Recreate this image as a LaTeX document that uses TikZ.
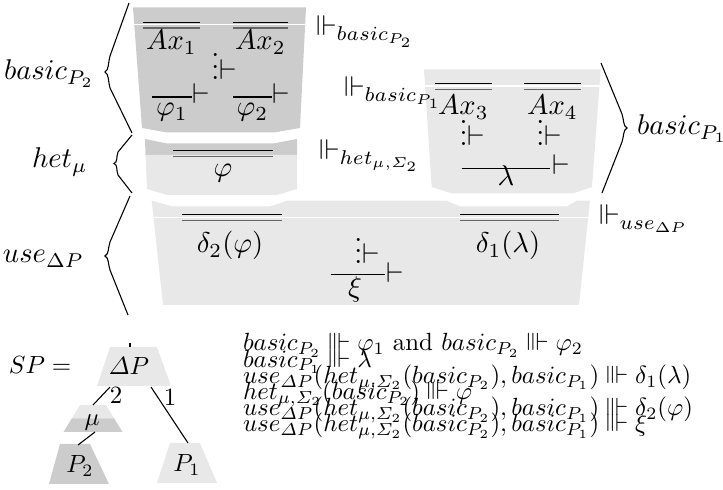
\documentclass[tikz,border=0pt]{standalone}
\usepackage{amsmath,amssymb}
\definecolor{darkbox}{HTML}{CCCCCC}
\definecolor{lightbox}{HTML}{E8E8E8}
\definecolor{rulegray}{gray}{0.4}
\newcommand{\dotsturn}{\ensuremath{\smash{\vdots}\mathord{\vdash}}}
\begin{document}
\begin{tikzpicture}[x=0.35pt,y=-0.35pt,
  txt/.style={inner sep=0pt,outer sep=0pt},
  small/.style={inner sep=0pt,outer sep=0pt,scale=0.87},
  rul/.style={line width=0.42pt},
  rulg/.style={line width=0.42pt,draw=rulegray},
  sepline/.style={draw=white,line width=0.6pt},
  brc/.style={line width=0.38pt},
  edgeline/.style={line width=0.38pt}]
\useasboundingbox (0,0) rectangle (723,490);
% ---------- boxes ----------
\fill[darkbox] (133,7.5) -- (306,7.5) -- (300,128) -- (274,132.5) -- (167,132.5) -- (142,128) -- cycle;
\draw[sepline] (130,24.5) -- (310,24.5);
\fill[darkbox] (145,139) -- (167,143.5) -- (273,143.5) -- (297,139) -- (297,155) -- (145.5,155) -- cycle;
\fill[lightbox] (145.5,155) -- (297,155) -- (297,189) -- (277,195) -- (167,195) -- (147,189) -- cycle;
\fill[lightbox] (424,69.3) -- (600.7,69.3) -- (592,187) -- (573,193.5) -- (452,193.5) -- (431.7,187) -- cycle;
\draw[sepline] (420,86) -- (605,86);
\fill[lightbox] (151.7,200.7) -- (173,206.5) -- (270,206.5) -- (287,200.7) -- (446.7,200.7) -- (460,206.5) -- (566.7,206.5) -- (576.7,200.7) -- (590,200.7) -- (579,305) -- (163,305) -- cycle;
\draw[sepline] (148,217.5) -- (595,217.5);
% ---------- rules ----------
\draw[rul] (142.7,22.5) -- (200,22.5);  \draw[rulg] (142.7,28) -- (200,28);
\draw[rul] (232.7,22.5) -- (288,22.5);  \draw[rulg] (232.7,28) -- (288,28);
\draw[rul] (435,83.3) -- (491.7,83.3);  \draw[rulg] (435,89.3) -- (491.7,89.3);
\draw[rul] (524.3,83.3) -- (580.7,83.3); \draw[rulg] (524.3,89.3) -- (580.7,89.3);
\draw[rul] (173,150.7) -- (273,150.7);  \draw[rulg] (173,156.7) -- (273,156.7);
\draw[rul] (181.7,214.3) -- (281.7,214.3); \draw[rulg] (181.7,220.3) -- (281.7,220.3);
\draw[rul] (460,214.3) -- (559,214.3);  \draw[rulg] (460,220.3) -- (559,220.3);
\draw[rul] (152,97) -- (192,97);
\draw[rul] (233,97) -- (272,97);
\draw[rul] (461.7,168.3) -- (550,168.3);
\draw[rul] (330.7,274.3) -- (385,274.3);
% ---------- formulas in boxes ----------
\node[txt,anchor=base] (ax1) at (171.4,50) {$Ax_1$};
\node[txt,anchor=base] (ax2) at (260.3,50) {$Ax_2$};
\node[txt,anchor=base west] (vd1) at (211.3,79.5) {\dotsturn};
\node[txt,anchor=base] (phi1) at (172,116) {$\varphi_1$};
\node[txt,anchor=base] (phi2) at (252.5,116) {$\varphi_2$};
\node[txt] (t1) at (201,94) {$\vdash$};
\node[txt] (t2) at (281,94) {$\vdash$};
\node[txt,anchor=base] (ax3) at (463.3,115) {$Ax_3$};
\node[txt,anchor=base] (ax4) at (552.5,115) {$Ax_4$};
\node[txt,anchor=base west] (vd3) at (459.6,146) {\dotsturn};
\node[txt,anchor=base west] (vd4) at (536.3,146) {\dotsturn};
\node[txt,anchor=base] (lam) at (506,186) {$\lambda$};
\node[txt] (t3) at (561,165) {$\vdash$};
\node[txt,anchor=base] (phi) at (223,177) {$\varphi$};
\node[txt,anchor=base] (d2) at (230,253) {$\delta_2(\varphi)$};
\node[txt,anchor=base] (d1) at (508,253) {$\delta_1(\lambda)$};
\node[txt,anchor=base west] (vd5) at (354.3,264) {\dotsturn};
\node[txt,anchor=base] (xi) at (355,297) {$\xi$};
\node[txt] (t4) at (395,273) {$\vdash$};
% ---------- turnstile labels ----------
\node[txt,anchor=base west] (l1) at (316,36) {$\Vdash_{basic_{P_2}}$};
\node[txt,anchor=base west] (l2) at (344,97) {$\Vdash_{basic_{P_1}}$};
\node[txt,anchor=base west] (l3) at (319,160) {$\Vdash_{het_{\mu,\varSigma_2}}$};
\node[txt,anchor=base west] (l4) at (599,225) {$\Vdash_{use_{\Delta P}}$};
% ---------- side labels and braces ----------
\node[txt,anchor=base west] (s1) at (4,80) {$basic_{P_2}$};
\node[txt,anchor=base west] (s2) at (32,168) {$het_{\mu}$};
\node[txt,anchor=base west] (s3) at (3,263) {$use_{\Delta P}$};
\node[txt,anchor=base west] (s4) at (637,135) {$basic_{P_1}$};
\draw[brc] (129,3) -- (110,56) .. controls (108,63) and (109,70) .. (105,72) .. controls (109,74) and (108,81) .. (110,88) -- (132,133);
\draw[brc] (132,135) -- (118,152) .. controls (116,157) and (118,162) .. (114,163.5) .. controls (118,165) and (116,170) .. (118,175) -- (132,193);
\draw[brc] (130,196) -- (110,242) .. controls (108,248) and (109,254) .. (105,256) .. controls (109,258) and (108,264) .. (110,270) -- (128,315);
\draw[brc] (601,63) -- (622,114) .. controls (624,120) and (623,126) .. (627,128) .. controls (623,130) and (624,136) .. (622,142) -- (602,193);
% ---------- tree ----------
\node[small,anchor=base west] (sp) at (9,374) {$SP =$};
\fill[lightbox] (110,347) -- (157,347) -- (171,386) -- (97,386) -- cycle;
\node[small,anchor=base] (dp) at (129,375) {$\varDelta P$};
\fill[lightbox] (80,405) -- (106,405) -- (114.25,418.5) -- (71.75,418.5) -- cycle;
\fill[darkbox] (71.75,418.5) -- (114.25,418.5) -- (122.5,432) -- (63.5,432) -- cycle;
\node[small,anchor=base] (mu) at (92,425.5) {$\mu$};
\fill[darkbox] (60,444) -- (90,444) -- (109,484) -- (49,484) -- cycle;
\node[small,anchor=base] (p2) at (80,473) {$P_2$};
\fill[lightbox] (170,443) -- (200,443) -- (217,483) -- (157,483) -- cycle;
\node[small,anchor=base] (p1) at (187,472) {$P_1$};
\coordinate (top) at (130,343);
\coordinate (topb) at (130,347);
\coordinate (e2a) at (110,387);
\coordinate (e2b) at (93,405);
\coordinate (e1a) at (151,387);
\coordinate (e1b) at (188,443);
\coordinate (e3a) at (95,432);
\coordinate (e3b) at (78,445);
\draw[edgeline] (top) -- (topb);
\draw[edgeline] (e2a) -- (e2b);
\draw[edgeline] (e1a) -- (e1b);
\draw[edgeline] (e3a) -- (e3b);
\node[small] (n2) at (116,395) {$2$};
\node[small] (n1) at (170,397) {$1$};
% ---------- list ----------
\node[small,anchor=base west] (r1) at (243,351) {$basic_{P_2}\Vvdash\varphi_1$ and $basic_{P_2}\Vvdash\varphi_2$};
\node[small,anchor=base west] (r2) at (243,367.2) {$basic_{P_1}\Vvdash\lambda$};
\node[small,anchor=base west] (r3) at (243,383.4) {$use_{\varDelta P}(het_{\mu,\varSigma_2}(basic_{P_2}),basic_{P_1})\Vvdash\delta_1(\lambda)$};
\node[small,anchor=base west] (r4) at (243,399.6) {$het_{\mu,\varSigma_2}(basic_{P_2})\Vvdash\varphi$};
\node[small,anchor=base west] (r5) at (243,415.8) {$use_{\varDelta P}(het_{\mu,\varSigma_2}(basic_{P_2}),basic_{P_1})\Vvdash\delta_2(\varphi)$};
\node[small,anchor=base west] (r6) at (243,432) {$use_{\varDelta P}(het_{\mu,\varSigma_2}(basic_{P_2}),basic_{P_1})\Vvdash\xi$};
\end{tikzpicture}
\end{document}
